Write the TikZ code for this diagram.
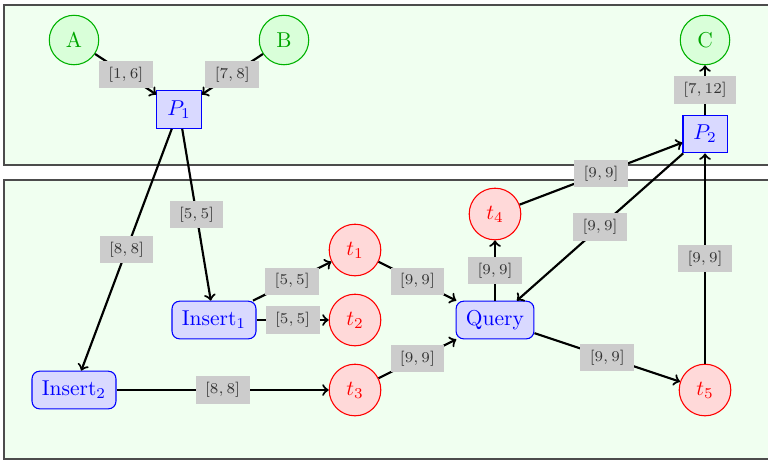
\documentclass[tikz,border=0pt]{standalone}
\begin{document}
\begin{tikzpicture}[x=0.465pt,y=-0.465pt,
 panel/.style={draw=black!70,fill=green!6,line width=0.5pt},
 place/.style={circle,draw=green!70!black,fill=green!15,text=green!65!black,minimum size=23pt,inner sep=0pt,line width=0.5pt},
 trans/.style={circle,draw=red,fill=red!15,text=red,minimum size=24pt,inner sep=0pt,line width=0.5pt},
 proc/.style={rectangle,draw=blue,fill=blue!15,text=blue,minimum width=20.5pt,minimum height=17.5pt,inner sep=0pt,line width=0.5pt},
 op/.style={rectangle,rounded corners=3.5pt,draw=blue,fill=blue!15,text=blue,minimum height=17.5pt,inner xsep=4.6pt,inner ysep=0pt,line width=0.5pt},
 arc/.style={->,line width=1pt},
 lbl/.style={fill=black!20,text=black!80,font=\fontsize{7.5}{9}\selectfont,inner xsep=4.4pt,inner ysep=2.8pt}]
\useasboundingbox (0,0) rectangle (768,462);
\clip (0,0) rectangle (768,462);
\path[panel] (4,5) rectangle (780,165);
\path[panel] (4,180) rectangle (780,459);
% nodes
\node[place] (A) at (74,40) {A};
\node[place] (B) at (284,40) {B};
\node[place] (C) at (705,40) {C};
\node[proc] (P1) at (179,109.5) {$P_1$};
\node[proc] (P2) at (705,134) {$P_2$};
\node[op] (I1) at (214,320) {Insert$_1$};
\node[op] (I2) at (74,390) {Insert$_2$};
\node[op] (Q) at (495,320) {Query};
\node[trans] (t1) at (355,250) {$t_1$};
\node[trans] (t2) at (355,320) {$t_2$};
\node[trans] (t3) at (355,390) {$t_3$};
\node[trans] (t4) at (495,214) {$t_4$};
\node[trans] (t5) at (705,390) {$t_5$};
% edges
\draw[arc] (A) -- node[lbl]{$[1,6]$} (P1);
\draw[arc] (B) -- node[lbl]{$[7,8]$} (P1);
\draw[arc] (P1) -- node[lbl]{$[8,8]$} (I2);
\draw[arc] (P1) -- node[lbl]{$[5,5]$} (I1);
\draw[arc] (I1) -- node[lbl]{$[5,5]$} (t1);
\draw[arc] (I1) -- node[lbl]{$[5,5]$} (t2);
\draw[arc] (I2) -- node[lbl]{$[8,8]$} (t3);
\draw[arc] (t1) -- node[lbl]{$[9,9]$} (Q);
\draw[arc] (t3) -- node[lbl]{$[9,9]$} (Q);
\draw[arc] (Q) -- node[lbl]{$[9,9]$} (t4);
\draw[arc] (Q) -- node[lbl]{$[9,9]$} (t5);
\draw[arc] (t4) -- node[lbl]{$[9,9]$} (P2);
\draw[arc] (P2) -- node[lbl]{$[9,9]$} (Q);
\draw[arc] (t5) -- node[lbl]{$[9,9]$} (P2);
\draw[arc] (P2) -- node[lbl]{$[7,12]$} (C);
\end{tikzpicture}
\end{document}
